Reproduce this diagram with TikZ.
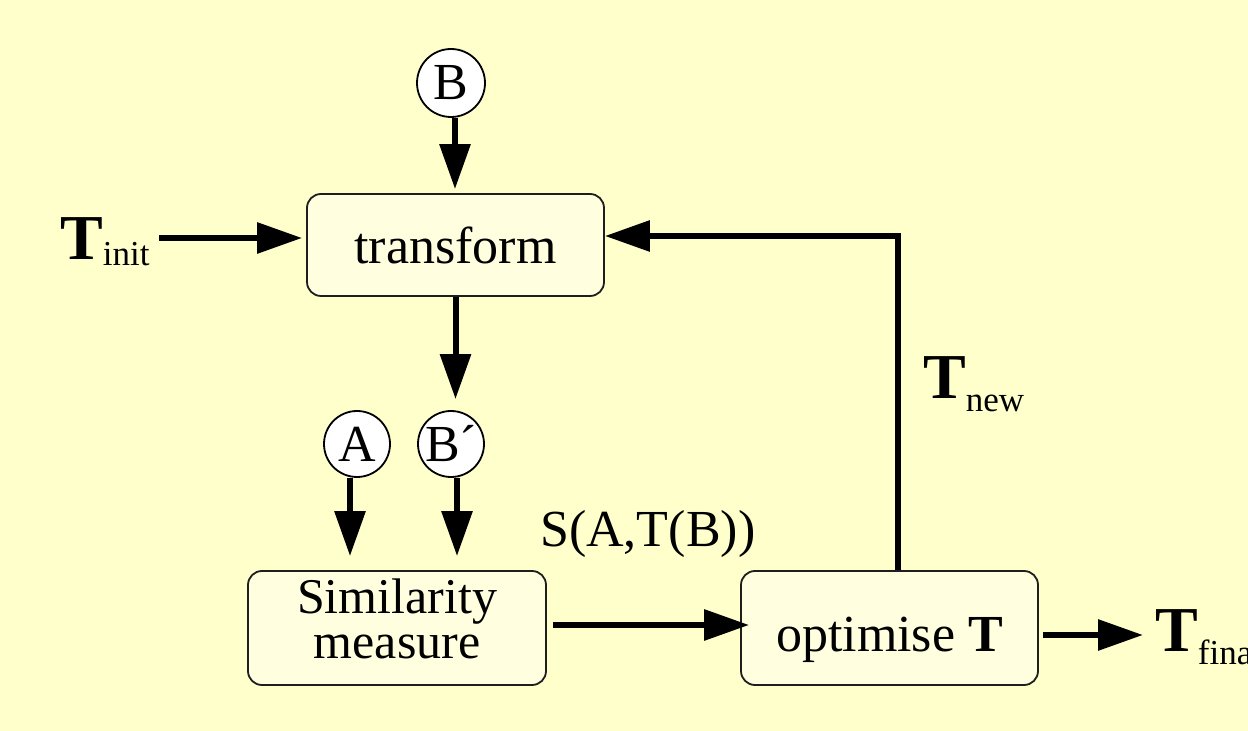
\documentclass[tikz,border=0pt]{standalone}
\usepackage{fontspec}
\setmainfont{Liberation Serif}
\usetikzlibrary{arrows.meta}
\definecolor{bgcol}{RGB}{255,255,204}
\definecolor{boxfill}{RGB}{255,255,224}
\definecolor{boxline}{RGB}{30,30,30}
\newcommand\subT[2]{\textbf{T}\raisebox{-#2pt}{\fontsize{35}{38}\selectfont #1}}
\begin{document}
\begin{tikzpicture}[x=1pt,y=1pt,
  box/.style={draw=boxline, line width=1.8pt, fill=boxfill, rounded corners=14pt,
    minimum width=297pt, minimum height=102pt, inner sep=0pt, font=\fontsize{52}{56}\selectfont},
  circ/.style={circle, draw=black, line width=1.8pt, fill=white, minimum size=66pt,
    inner sep=0pt, font=\fontsize{52}{56}\selectfont},
  lbl/.style={inner sep=0pt, font=\fontsize{52}{56}\selectfont},
  tlbl/.style={inner sep=0pt, anchor=base west, font=\fontsize{64}{70}\selectfont},
  arr/.style={line width=6pt, -{Triangle[length=45pt,width=30pt]}}
]
\fill[bgcol] (0,0) rectangle (1248,731);
\useasboundingbox (0,0) rectangle (1248,731);

% boxes
\node[box] (transform) at (455.5,486) {transform};
\node[box, minimum width=298pt, minimum height=114pt] (sim) at (397,103) {};
\node[inner sep=0pt, align=center, font=\fontsize{50}{45.5}\selectfont] (simtext) at ([yshift=9pt]sim.center) {Similarity\\measure};
\node[box, minimum height=114pt, text height=47pt, text depth=0pt] (opt) at (889.5,103) {optimise \textbf{T}};

% circles
\node[circ, minimum size=68pt] (B) at (451,648) {B};
\node[circ] (A) at (357,287) {A};
\node[circ] (Bp) at (451,287) {B´};

% labels
\node[tlbl] (tinit) at (60,471) {\subT{init}{6}};
\node[tlbl] (tnew) at (923,332) {\subT{new}{13}};
\node[tlbl] (tfinal) at (1155,79) {\subT{final}{13}};
\node[lbl, anchor=base west] (sat) at (540,184) {S(A,T(B))};

% connectors
\draw[arr, shorten >=4pt] ([xshift=4pt]B.south) -- ([xshift=4pt]B.south |- transform.north);
\draw[arr, shorten >=11pt] (transform.south) -- (transform.south |- Bp.north);
\draw[arr, shorten >=14pt] ([xshift=-7pt]A.south) -- ([xshift=-7pt]A.south |- sim.north);
\draw[arr, shorten >=14pt] ([xshift=6pt]Bp.south) -- ([xshift=6pt]Bp.south |- sim.north);
\draw[arr, shorten <=9pt, shorten >=4pt] ([yshift=7pt]transform.west -| tinit.east) -- ([yshift=7pt]transform.west);
\draw[arr, shorten <=6pt, shorten >=-9pt] ([yshift=3pt]sim.east) -- ([yshift=3pt]opt.west);
\draw[arr, shorten <=4pt, shorten >=12pt] ([yshift=-7pt]opt.east) -- ([yshift=-7pt]opt.east -| tfinal.west);
\draw[arr] ([xshift=8.5pt]opt.north) |- ([yshift=9pt]transform.east);
\end{tikzpicture}
\end{document}
